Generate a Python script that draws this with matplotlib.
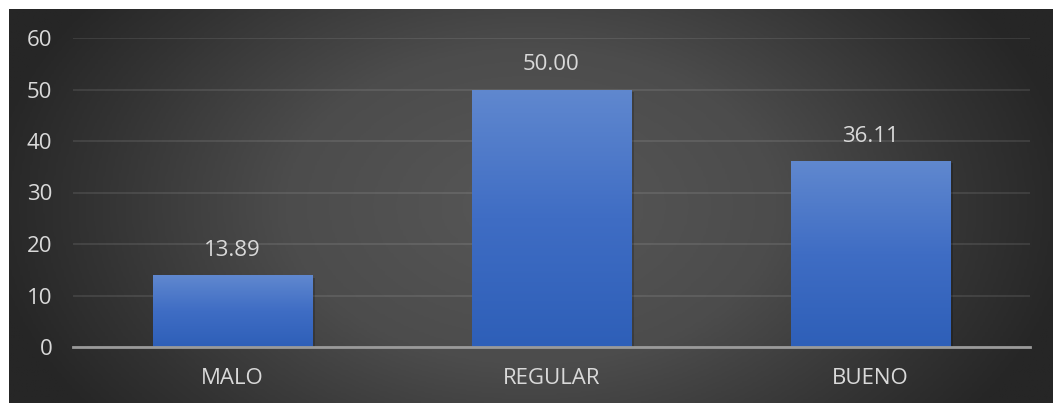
import numpy as np
import matplotlib.pyplot as plt
import matplotlib.patheffects as pe
from matplotlib.colors import LinearSegmentedColormap

categories = ['MALO', 'REGULAR', 'BUENO']
values = [13.89, 50.00, 36.11]
yticks = [0, 10, 20, 30, 40, 50, 60]

TEXT = '#d9d9d9'
plt.rcParams['font.family'] = ['Open Sans', 'DejaVu Sans']

fig = plt.figure(figsize=(10.54, 4.03), dpi=100)
fig.patch.set_facecolor('white')

# dark radial background panel
bg = fig.add_axes([9 / 1054, 0, 1 - 10 / 1054, 1 - 9 / 403])
bg.set_axis_off()
gx, gy = np.meshgrid(np.linspace(-1, 1, 400), np.linspace(-1, 1, 200))
r = np.clip(np.sqrt((gx / 1.05) ** 2 + (gy / 1.8) ** 2), 0, 1)
bg_cmap = LinearSegmentedColormap.from_list(
    'bg', [(0, '#575757'), (0.45, '#4c4c4c'), (0.8, '#333333'), (1, '#262626')])
bg.imshow(r, cmap=bg_cmap, aspect='auto', extent=[0, 1, 0, 1], vmin=0, vmax=1)
bg.set_xlim(0, 1)
bg.set_ylim(0, 1)

ax = fig.add_axes([73 / 1054, 56 / 403, 957 / 1054, 309 / 403])
ax.patch.set_alpha(0)
x = np.arange(len(categories))
bars = ax.bar(x, values, width=0.5, color='#4573c4', zorder=3,
              path_effects=[pe.SimplePatchShadow(offset=(2, -1.5), shadow_rgbFace='black', alpha=0.2),
                            pe.Normal()])

# vertical gradient inside each bar
bar_cmap = LinearSegmentedColormap.from_list('bar', ['#2e5fb8', '#3f6dc4', '#6088cf'])
grad = np.linspace(0, 1, 256).reshape(-1, 1)
for b in bars:
    bx, by = b.get_x(), b.get_y()
    im = ax.imshow(grad, cmap=bar_cmap, origin='lower', aspect='auto',
                   extent=[bx, bx + b.get_width(), by, by + b.get_height()], zorder=4)
    im.set_clip_path(b)

for xi, v in zip(x, values):
    ax.annotate(f'{v:.2f}', (xi, v), xytext=(0, 18), textcoords='offset points',
                ha='center', va='center', color=TEXT, fontsize=16, zorder=5)

ax.set_xlim(-0.5, len(categories) - 0.5)
ax.set_ylim(0, 60)
ax.set_yticks(yticks)
ax.set_xticks(x)
ax.set_xticklabels(categories)
ax.yaxis.grid(True, color='#ffffff', alpha=0.1, linewidth=1.3, zorder=1)
ax.set_axisbelow(True)
for s in ['top', 'right', 'left']:
    ax.spines[s].set_visible(False)
ax.spines['bottom'].set_color('#9a9a9a')
ax.spines['bottom'].set_linewidth(2)
ax.spines['bottom'].set_zorder(6)
ax.tick_params(axis='both', length=0, colors=TEXT, labelsize=16)
ax.tick_params(axis='y', pad=15)
ax.tick_params(axis='x', pad=15)

fig.savefig('out.png', dpi=100, facecolor=fig.get_facecolor())
